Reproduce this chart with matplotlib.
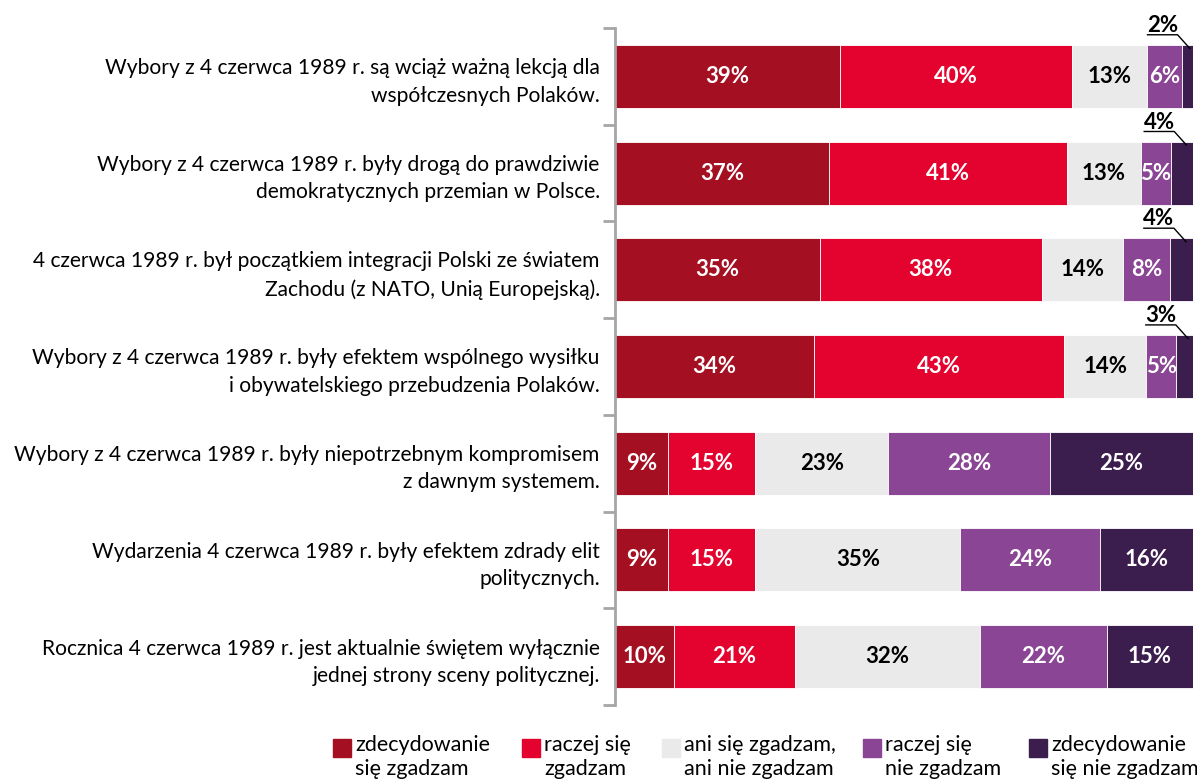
import matplotlib.pyplot as plt
from matplotlib.patches import Rectangle
import numpy as np

plt.rcParams['font.family'] = ['Lato', 'DejaVu Sans']

statements = [
    'Wybory z 4 czerwca 1989 r. są wciąż ważną lekcją dla\nwspółczesnych Polaków.',
    'Wybory z 4 czerwca 1989 r. były drogą do prawdziwie\ndemokratycznych przemian w Polsce.',
    '4 czerwca 1989 r. był początkiem integracji Polski ze światem\nZachodu (z NATO, Unią Europejską).',
    'Wybory z 4 czerwca 1989 r. były efektem wspólnego wysiłku\ni obywatelskiego przebudzenia Polaków.',
    'Wybory z 4 czerwca 1989 r. były niepotrzebnym kompromisem\nz dawnym systemem.',
    'Wydarzenia 4 czerwca 1989 r. były efektem zdrady elit\npolitycznych.',
    'Rocznica 4 czerwca 1989 r. jest aktualnie świętem wyłącznie\njednej strony sceny politycznej.',
]

zdecydowanie_tak = [38.9, 37.0, 35.4, 34.4, 9.2, 9.2, 10.2]
raczej_tak = [40.1, 41.2, 38.4, 43.3, 15.1, 15.1, 20.9]
ani_ani = [13.0, 12.8, 14.1, 14.2, 23.0, 35.4, 32.0]
raczej_nie = [6.1, 5.2, 8.1, 5.2, 28.0, 24.2, 22.0]
zdecydowanie_nie = [1.9, 3.8, 4.0, 2.9, 24.7, 16.1, 14.9]

series_names = ['zdecydowanie\nsię zgadzam', 'raczej się\nzgadzam', 'ani się zgadzam,\nani nie zgadzam',
                'raczej się\nnie zgadzam', 'zdecydowanie\nsię nie zgadzam']
colors = ['#A50F22', '#E4032E', '#EAEAEA', '#8A4595', '#3B1D4E']
text_colors = ['white', 'white', 'black', 'white', 'white']

series = [zdecydowanie_tak, raczej_tak, ani_ani, raczej_nie, zdecydowanie_nie]

fig = plt.figure(figsize=(11.97, 7.81), dpi=100)
ax = fig.add_axes([615 / 1197, 1 - 705 / 781, 578 / 1197, 677 / 781])

y = np.arange(len(statements))
left = np.zeros(len(statements))
for vals, col, tcol in zip(series, colors, text_colors):
    vals = np.array(vals)
    ax.barh(y, vals, left=left, height=0.65, color=col, edgecolor='white', linewidth=0.6)
    for i, v in enumerate(vals):
        lab = '{}%'.format(int(round(v)))
        if v >= 5:
            ax.text(left[i] + v / 2, y[i], lab, ha='center', va='center', color=tcol,
                    fontsize=16, fontweight='bold')
        else:
            # small segment: label above the bar with a leader line
            end_x = left[i] + v * 0.7
            ux0, ux1 = end_x - 7.3, end_x - 2.1
            uy = y[i] - 0.43
            ax.plot([ux0, ux1, end_x], [uy, uy, y[i] - 0.29], color='black', lw=1, clip_on=False)
            ax.text((ux0 + ux1) / 2, uy - 0.03, lab, ha='center', va='baseline', color='black',
                    fontsize=16, fontweight='bold', clip_on=False)
    left += vals

ax.set_xlim(0, 100)
ax.set_ylim(len(statements) - 0.5, -0.5)
ax.set_yticks(y)
ax.set_yticklabels(statements, fontsize=15.1, linespacing=1.45, ha='right')
ax.tick_params(axis='y', which='major', length=0, pad=11)
ax.set_yticks(np.arange(len(statements) + 1) - 0.5, minor=True)
ax.tick_params(axis='y', which='minor', length=9, width=2, color='#A6A6A6')
ax.set_xticks([])
for s in ['top', 'right', 'bottom']:
    ax.spines[s].set_visible(False)
ax.spines['left'].set_color('#A6A6A6')
ax.spines['left'].set_linewidth(2)

# legend drawn by hand to keep the irregular spacing
leg_x = [333, 522, 662, 863, 1029]
for lx, name, col in zip(leg_x, series_names, colors):
    fig.add_artist(Rectangle((lx / 1197, 1 - 757 / 781), 18 / 1197, 18 / 781,
                             transform=fig.transFigure, color=col))
    fig.text((lx + 22) / 1197, 1 - 735 / 781, name, ha='left', va='top', fontsize=15.5,
             linespacing=1.25)

fig.savefig('out.png', dpi=100)
